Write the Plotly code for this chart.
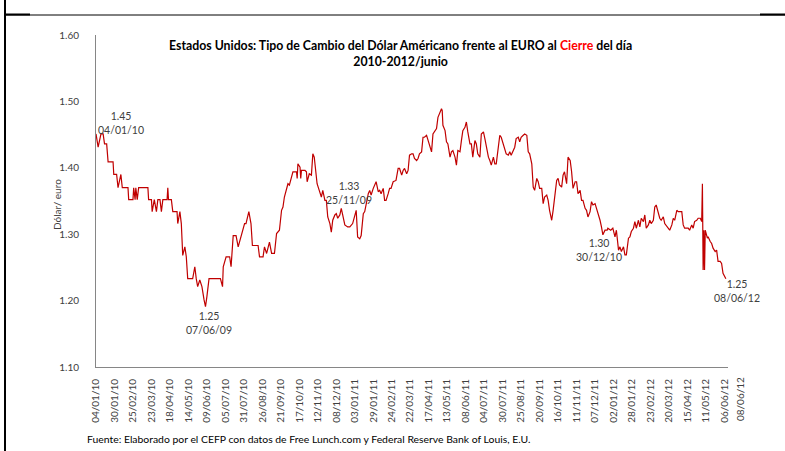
import pandas as pd
import plotly.graph_objects as go

# ---------------- data ----------------
dates = [
    "2010-01-04", "2010-01-07", "2010-01-11", "2010-01-14", "2010-01-16", "2010-01-19", "2010-01-21",
    "2010-01-28", "2010-01-29", "2010-02-02", "2010-02-04", "2010-02-08", "2010-02-10", "2010-02-18",
    "2010-02-19", "2010-02-25", "2010-02-26", "2010-02-28", "2010-03-01", "2010-03-03", "2010-03-05",
    "2010-03-18", "2010-03-19", "2010-03-23", "2010-03-24", "2010-03-27", "2010-03-30", "2010-04-01",
    "2010-04-04", "2010-04-06", "2010-04-08", "2010-04-14", "2010-04-15", "2010-04-16", "2010-04-20",
    "2010-04-22", "2010-04-28", "2010-04-29", "2010-05-02", "2010-05-04", "2010-05-06", "2010-05-09",
    "2010-05-11", "2010-05-13", "2010-05-20", "2010-05-23", "2010-05-25", "2010-05-27", "2010-05-30",
    "2010-06-02", "2010-06-05", "2010-06-07", "2010-06-09", "2010-06-12", "2010-06-28", "2010-07-01",
    "2010-07-02", "2010-07-06", "2010-07-11", "2010-07-13", "2010-07-16", "2010-07-20", "2010-07-23",
    "2010-07-27", "2010-08-01", "2010-08-03", "2010-08-07", "2010-08-10", "2010-08-12", "2010-08-20",
    "2010-08-22", "2010-08-27", "2010-08-29", "2010-09-01", "2010-09-05", "2010-09-08", "2010-09-12",
    "2010-09-15", "2010-09-17", "2010-09-19", "2010-09-22", "2010-09-24", "2010-09-26", "2010-09-29",
    "2010-10-01", "2010-10-03", "2010-10-06", "2010-10-08", "2010-10-13", "2010-10-14", "2010-10-15",
    "2010-10-18", "2010-10-19", "2010-10-20", "2010-10-25", "2010-10-27", "2010-10-28", "2010-10-31",
    "2010-11-03", "2010-11-05", "2010-11-07", "2010-11-09", "2010-11-11", "2010-11-14", "2010-11-17",
    "2010-11-19", "2010-11-22", "2010-11-24", "2010-11-26", "2010-11-29", "2010-12-01", "2010-12-03",
    "2010-12-06", "2010-12-08", "2010-12-10", "2010-12-13", "2010-12-15", "2010-12-17", "2010-12-20",
    "2010-12-24", "2010-12-27", "2010-12-31", "2011-01-03", "2011-01-05", "2011-01-07", "2011-01-10",
    "2011-01-12", "2011-01-15", "2011-01-17", "2011-01-19", "2011-01-22", "2011-01-24", "2011-01-26",
    "2011-01-29", "2011-02-02", "2011-02-05", "2011-02-07", "2011-02-09", "2011-02-12", "2011-02-14",
    "2011-02-16", "2011-02-19", "2011-02-21", "2011-02-23", "2011-02-26", "2011-03-02", "2011-03-05",
    "2011-03-07", "2011-03-10", "2011-03-12", "2011-03-14", "2011-03-17", "2011-03-19", "2011-03-21",
    "2011-03-24", "2011-03-26", "2011-03-28", "2011-03-31", "2011-04-02", "2011-04-04", "2011-04-07",
    "2011-04-09", "2011-04-11", "2011-04-14", "2011-04-16", "2011-04-19", "2011-04-21", "2011-04-23",
    "2011-04-26", "2011-04-28", "2011-04-30", "2011-05-03", "2011-05-05", "2011-05-06", "2011-05-07",
    "2011-05-10", "2011-05-12", "2011-05-14", "2011-05-17", "2011-05-19", "2011-05-21", "2011-05-24",
    "2011-05-26", "2011-05-28", "2011-05-31", "2011-06-02", "2011-06-04", "2011-06-07", "2011-06-09",
    "2011-06-11", "2011-06-14", "2011-06-16", "2011-06-18", "2011-06-21", "2011-06-23", "2011-06-25",
    "2011-06-28", "2011-06-30", "2011-07-03", "2011-07-05", "2011-07-07", "2011-07-10", "2011-07-12",
    "2011-07-14", "2011-07-17", "2011-07-19", "2011-07-21", "2011-07-24", "2011-07-26", "2011-07-28",
    "2011-07-31", "2011-08-02", "2011-08-04", "2011-08-07", "2011-08-09", "2011-08-11", "2011-08-14",
    "2011-08-16", "2011-08-18", "2011-08-21", "2011-08-23", "2011-08-25", "2011-08-28", "2011-08-30",
    "2011-09-02", "2011-09-04", "2011-09-06", "2011-09-09", "2011-09-11", "2011-09-13", "2011-09-16",
    "2011-09-18", "2011-09-20", "2011-09-23", "2011-09-25", "2011-09-27", "2011-09-30", "2011-10-02",
    "2011-10-04", "2011-10-07", "2011-10-09", "2011-10-11", "2011-10-14", "2011-10-16", "2011-10-18",
    "2011-10-21", "2011-10-23", "2011-10-25", "2011-10-28", "2011-10-30", "2011-11-02", "2011-11-04",
    "2011-11-06", "2011-11-09", "2011-11-11", "2011-11-13", "2011-11-16", "2011-11-18", "2011-11-20",
    "2011-11-23", "2011-11-25", "2011-11-27", "2011-11-30", "2011-12-02", "2011-12-04", "2011-12-07",
    "2011-12-09", "2011-12-11", "2011-12-14", "2011-12-16", "2011-12-18", "2011-12-21", "2011-12-24",
    "2011-12-25", "2011-12-29", "2012-01-01", "2012-01-04", "2012-01-06", "2012-01-08", "2012-01-09",
    "2012-01-11", "2012-01-13", "2012-01-16", "2012-01-18", "2012-01-20", "2012-01-23", "2012-01-25",
    "2012-01-27", "2012-01-30", "2012-02-01", "2012-02-03", "2012-02-06", "2012-02-08", "2012-02-10",
    "2012-02-13", "2012-02-15", "2012-02-17", "2012-02-20", "2012-02-22", "2012-02-24", "2012-02-27",
    "2012-02-29", "2012-03-02", "2012-03-05", "2012-03-07", "2012-03-09", "2012-03-12", "2012-03-14",
    "2012-03-17", "2012-03-19", "2012-03-21", "2012-03-24", "2012-03-26", "2012-03-28", "2012-03-31",
    "2012-04-02", "2012-04-07", "2012-04-09", "2012-04-11", "2012-04-16", "2012-04-18", "2012-04-21",
    "2012-04-23", "2012-04-25", "2012-04-28", "2012-04-30", "2012-05-03", "2012-05-05", "2012-05-06",
    "2012-05-07", "2012-05-08", "2012-05-09", "2012-05-10", "2012-05-13",
    "2012-05-14", "2012-05-17", "2012-05-19", "2012-05-21", "2012-05-24", "2012-05-26", "2012-05-28",
    "2012-05-31", "2012-06-02", "2012-06-04", "2012-06-06", "2012-06-08",
]

usd_per_eur = [
    1.451, 1.431, 1.451, 1.451, 1.436, 1.436, 1.409,
    1.409, 1.390, 1.390, 1.370, 1.390, 1.370, 1.370,
    1.352, 1.352, 1.370, 1.352, 1.370, 1.352, 1.370,
    1.370, 1.352, 1.352, 1.334, 1.352, 1.334, 1.352,
    1.352, 1.334, 1.352, 1.352, 1.370, 1.352, 1.352,
    1.334, 1.334, 1.316, 1.334, 1.316, 1.268, 1.281,
    1.266, 1.233, 1.233, 1.251, 1.233, 1.221, 1.231,
    1.221, 1.201, 1.191, 1.206, 1.233, 1.233, 1.221,
    1.251, 1.266, 1.266, 1.251, 1.298, 1.298, 1.281,
    1.298, 1.316, 1.316, 1.334, 1.316, 1.283, 1.283,
    1.266, 1.266, 1.281, 1.271, 1.288, 1.271, 1.271,
    1.301, 1.303, 1.306, 1.336, 1.341, 1.356, 1.366,
    1.376, 1.374, 1.389, 1.394, 1.394, 1.384, 1.406,
    1.401, 1.384, 1.396, 1.396, 1.394, 1.379, 1.391,
    1.389, 1.421, 1.416, 1.396, 1.376, 1.366, 1.356,
    1.366, 1.351, 1.351, 1.326, 1.316, 1.303, 1.321,
    1.329, 1.331, 1.324, 1.329, 1.339, 1.329, 1.314,
    1.311, 1.311, 1.316, 1.329, 1.336, 1.296, 1.293,
    1.298, 1.331, 1.334, 1.346, 1.361, 1.366, 1.359,
    1.369, 1.379, 1.364, 1.366, 1.361, 1.369, 1.351,
    1.351, 1.361, 1.369, 1.369, 1.379, 1.381, 1.399,
    1.399, 1.389, 1.396, 1.399, 1.391, 1.396, 1.419,
    1.421, 1.421, 1.414, 1.411, 1.414, 1.421, 1.424,
    1.446, 1.446, 1.449, 1.441, 1.429, 1.424, 1.451,
    1.456, 1.459, 1.476, 1.486, 1.489, 1.486, 1.464,
    1.456, 1.439, 1.436, 1.416, 1.424, 1.426, 1.416,
    1.404, 1.426, 1.424, 1.441, 1.456, 1.461, 1.469,
    1.454, 1.436, 1.436, 1.416, 1.441, 1.436, 1.421,
    1.416, 1.451, 1.454, 1.444, 1.431, 1.416, 1.411,
    1.404, 1.416, 1.406, 1.406, 1.431, 1.449, 1.446,
    1.436, 1.426, 1.421, 1.419, 1.424, 1.419, 1.426,
    1.431, 1.444, 1.446, 1.439, 1.446, 1.449, 1.451,
    1.449, 1.424, 1.421, 1.406, 1.371, 1.366, 1.384,
    1.379, 1.369, 1.369, 1.346, 1.356, 1.359, 1.351,
    1.336, 1.321, 1.336, 1.351, 1.381, 1.384, 1.374,
    1.371, 1.389, 1.394, 1.376, 1.416, 1.411, 1.394,
    1.369, 1.379, 1.379, 1.361, 1.366, 1.351, 1.351,
    1.339, 1.336, 1.326, 1.334, 1.349, 1.344, 1.346,
    1.339, 1.334, 1.321, 1.311, 1.299, 1.306, 1.306,
    1.309, 1.306, 1.309, 1.296, 1.306, 1.291, 1.276,
    1.281, 1.274, 1.281, 1.269, 1.269, 1.294, 1.296,
    1.304, 1.309, 1.319, 1.309, 1.321, 1.311, 1.324,
    1.319, 1.329, 1.309, 1.314, 1.321, 1.316, 1.321,
    1.341, 1.344, 1.329, 1.324, 1.321, 1.326, 1.316,
    1.311, 1.309, 1.306, 1.314, 1.324, 1.321, 1.336,
    1.334, 1.334, 1.314, 1.309, 1.309, 1.306, 1.314,
    1.309, 1.319, 1.321, 1.324, 1.324, 1.319, 1.376,
    1.246, 1.306, 1.246, 1.306, 1.294,
    1.296, 1.289, 1.286, 1.279, 1.274, 1.276, 1.259,
    1.259, 1.256, 1.241, 1.236, 1.233,
]

x_tick_labels = [
    "04/01/10", "30/01/10", "25/02/10", "23/03/10", "18/04/10", "14/05/10", "09/06/10",
    "05/07/10", "31/07/10", "26/08/10", "21/09/10", "17/10/10", "12/11/10", "08/12/10",
    "03/01/11", "29/01/11", "24/02/11", "22/03/11", "17/04/11", "13/05/11", "08/06/11",
    "04/07/11", "30/07/11", "25/08/11", "20/09/11", "16/10/11", "11/11/11", "07/12/11",
    "02/01/12", "28/01/12", "23/02/12", "20/03/12", "15/04/12", "11/05/12", "06/06/12",
]
last_tick_label = "08/06/12"
y_ticks = [1.10, 1.20, 1.30, 1.40, 1.50, 1.60]

point_labels = [
    ("1.45", "04/01/10"),
    ("1.25", "07/06/09"),
    ("1.33", "25/11/09"),
    ("1.30", "30/12/10"),
    ("1.25", "08/06/12"),
]

title_text = ("<b>Estados Unidos: Tipo de Cambio del Dólar Américano frente al EURO al "
              "<span style='color:#FF0000'>Cierre</span> del día<br>2010-2012/junio</b>")
source_text = ("Fuente: Elaborado por el CEFP con datos de Free Lunch.com y "
               "Federal Reserve Bank of Louis, E.U.")

# ---------------- figure ----------------
FONT = "Lato"
TXT = "#404040"
AX = "#868686"

x = pd.to_datetime(dates)
tickvals = pd.to_datetime(x_tick_labels, format="%d/%m/%y")

fig = go.Figure()
fig.add_trace(go.Scatter(
    x=x, y=usd_per_eur, mode="lines",
    line=dict(color="#C00000", width=1.2),
    showlegend=False, hoverinfo="skip",
))

fig.update_layout(
    width=785, height=451,
    margin=dict(l=96, r=57, t=35, b=84),
    paper_bgcolor="white", plot_bgcolor="white",
    font=dict(family=FONT, size=10, color=TXT),
    showlegend=False,
)

fig.update_xaxes(
    type="date",
    range=["2010-01-04", "2012-06-11"],
    tickmode="array", tickvals=tickvals, ticktext=x_tick_labels,
    tickangle=-90, ticks="", ticklabelstandoff=7,
    tickfont=dict(family=FONT, size=10, color=TXT),
    showgrid=False, zeroline=False,
    showline=True, linecolor=AX, linewidth=1,
)
fig.update_yaxes(
    range=[1.10, 1.60],
    tickmode="array", tickvals=y_ticks, ticktext=[f"{v:.2f}" for v in y_ticks],
    ticks="", ticklabelstandoff=14,
    tickfont=dict(family=FONT, size=10, color=TXT),
    showgrid=False, zeroline=False,
    showline=True, linecolor=AX, linewidth=1,
)

# pixel -> paper helpers for text placement (plot area: x 96..728, y 35..367)
def px(v):
    return (v - 96) / 632.0

def py(v):
    return (367 - v) / 332.0

# title
fig.add_annotation(text=title_text, xref="paper", yref="paper",
                   x=px(400.5), y=py(53), xanchor="center", yanchor="middle",
                   showarrow=False, font=dict(family=FONT, size=12.3, color="#000000"))

# y-axis title
fig.add_annotation(text="Dólar/ euro", xref="paper", yref="paper",
                   x=px(57), y=py(205), textangle=-90, xanchor="center", yanchor="middle",
                   showarrow=False, font=dict(family=FONT, size=10, color=TXT))

# last x tick label (Excel placed it just beyond the axis end)
fig.add_annotation(text=last_tick_label, xref="paper", yref="paper",
                   x=px(740), y=py(375), textangle=-90, xanchor="center", yanchor="top",
                   showarrow=False, font=dict(family=FONT, size=10, color=TXT))

# data labels
label_pos = [(121, 123), (209, 323), (349, 192.5), (599.3, 250), (737.3, 291)]
for (val, dt), (lx, ly) in zip(point_labels, label_pos):
    fig.add_annotation(text=f"{val}<br>{dt}", xref="paper", yref="paper",
                       x=px(lx), y=py(ly), xanchor="center", yanchor="middle",
                       showarrow=False, align="center",
                       font=dict(family=FONT, size=10.5, color=TXT))

# source note
fig.add_annotation(text=source_text, xref="paper", yref="paper",
                   x=px(85), y=py(439), xanchor="left", yanchor="middle",
                   showarrow=False, font=dict(family=FONT, size=10.4, color="#000000"))

# page frame lines
fig.add_shape(type="line", xref="paper", yref="paper",
              x0=px(5), x1=px(5), y0=py(0), y1=py(451),
              line=dict(color="#000000", width=2))
fig.add_shape(type="line", xref="paper", yref="paper",
              x0=px(5), x1=px(785), y0=py(15), y1=py(15),
              line=dict(color="#000000", width=1))
fig.add_shape(type="line", xref="paper", yref="paper",
              x0=px(5), x1=px(30), y0=py(14.5), y1=py(14.5),
              line=dict(color="#000000", width=2))
fig.add_shape(type="line", xref="paper", yref="paper",
              x0=px(760), x1=px(785), y0=py(14.5), y1=py(14.5),
              line=dict(color="#000000", width=2))

fig.write_html(
    "out.html",
    config={"displayModeBar": False},
    post_script="document.body.style.margin='0';document.body.style.overflow='hidden';",
)
